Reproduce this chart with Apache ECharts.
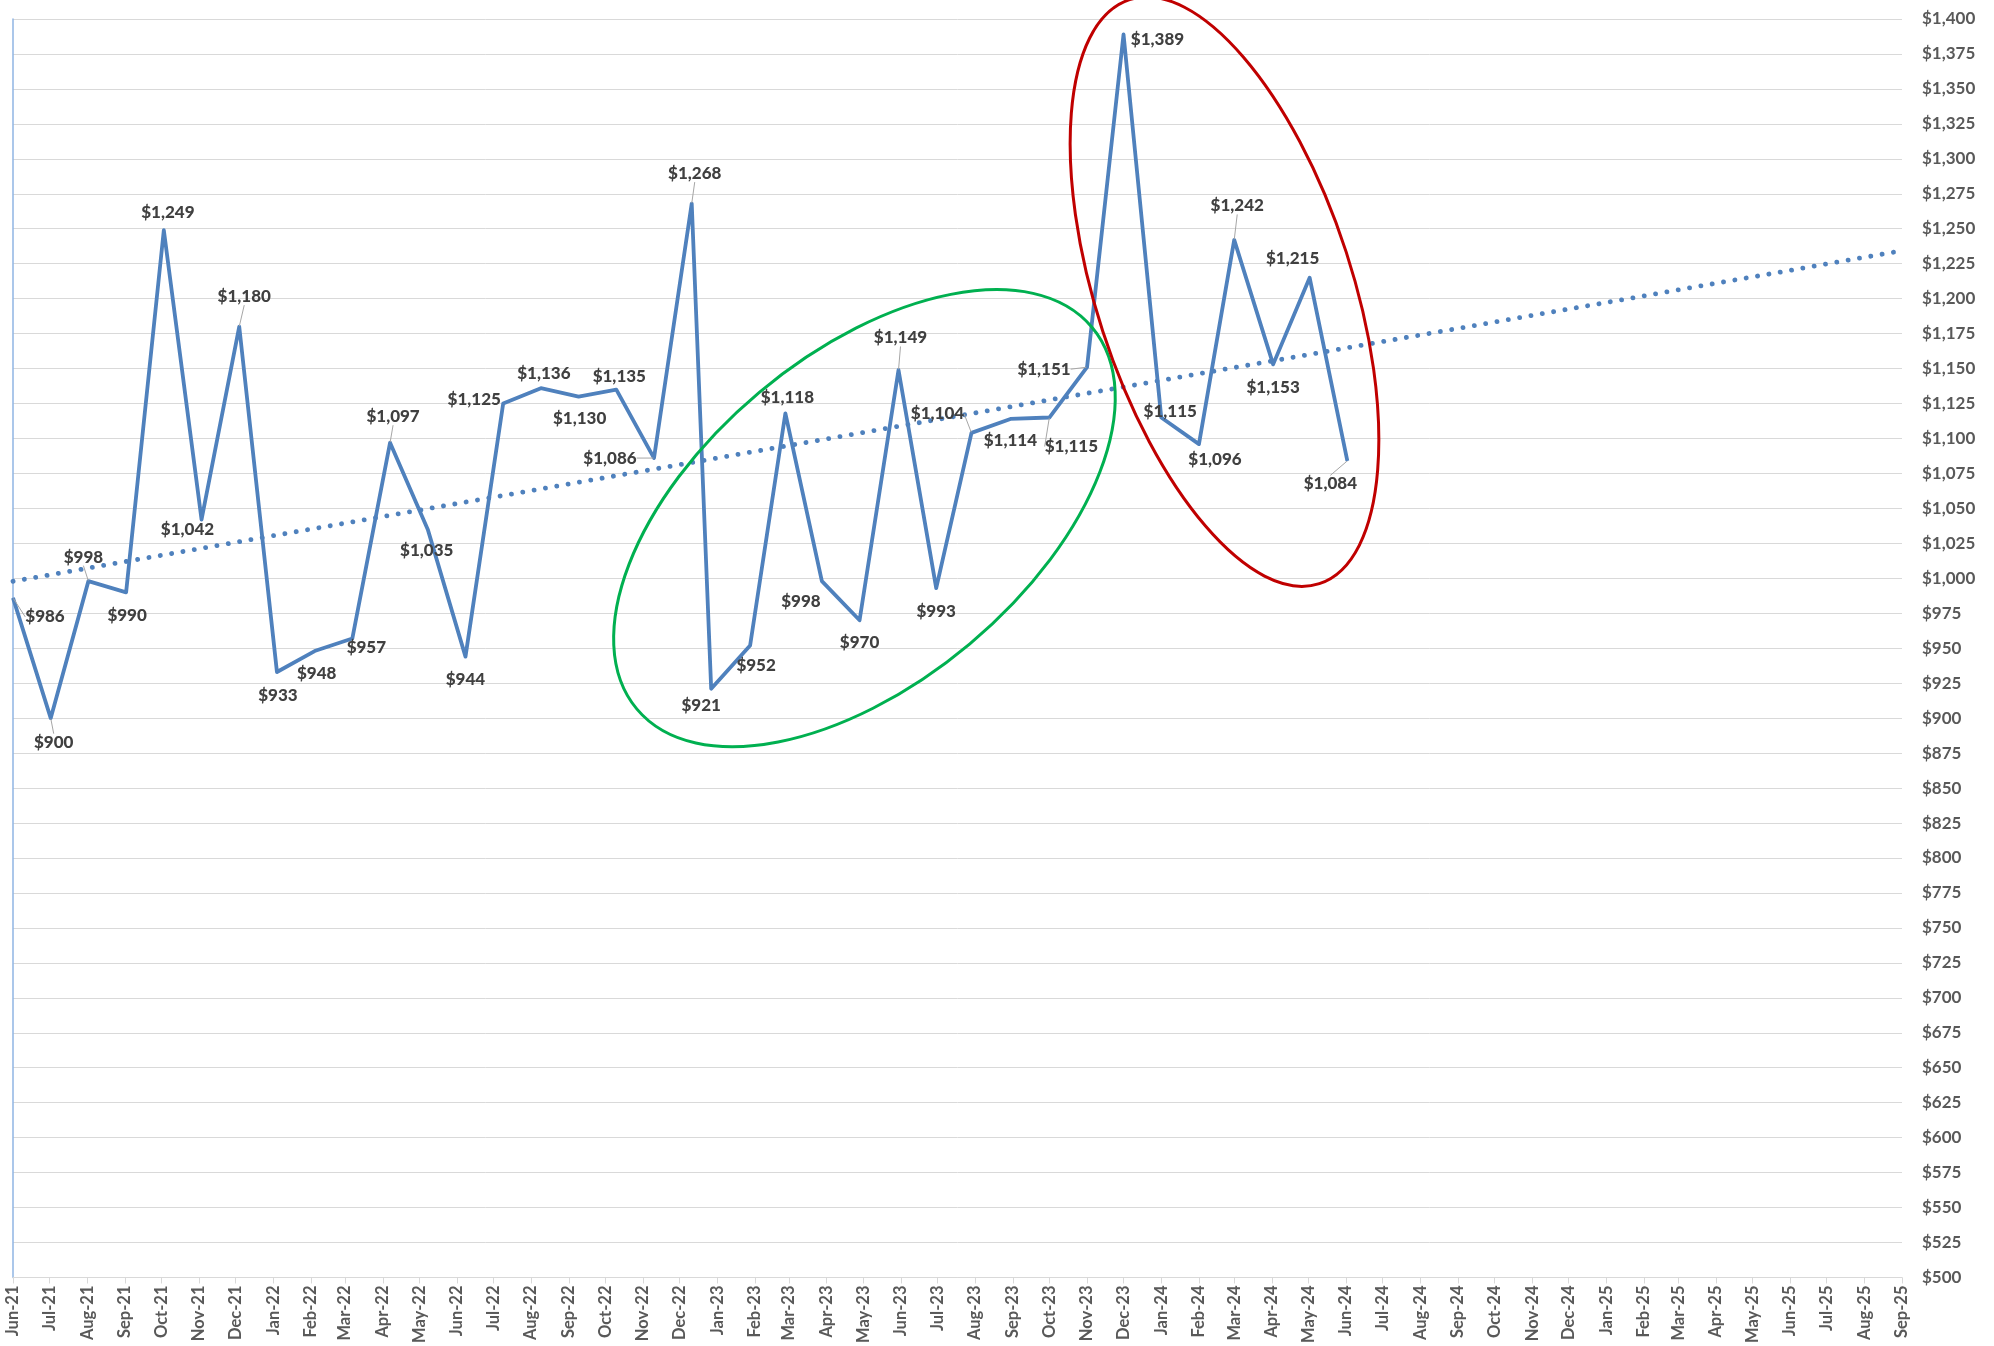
<!DOCTYPE html>
<html>
<head>
<meta charset="utf-8">
<script src="https://cdn.jsdelivr.net/npm/echarts@6/dist/echarts.min.js"></script>
<style>
  html, body { margin: 0; padding: 0; background: #ffffff; }
  #chart { width: 1994px; height: 1346px; }
</style>
</head>
<body>
<div id="chart"></div>
<script>
// Observation dates (yyyy-mm-dd)
const dates = [
  '2021-06-01','2021-07-02','2021-08-02','2021-09-02','2021-10-03','2021-11-03','2021-12-04',
  '2022-01-04','2022-02-04','2022-03-07','2022-04-07','2022-05-08','2022-06-08','2022-07-09',
  '2022-08-09','2022-09-09','2022-10-10','2022-11-10','2022-12-11',
  '2022-12-27','2023-01-28','2023-02-26','2023-03-28','2023-04-28','2023-05-30','2023-06-30',
  '2023-07-29','2023-08-30','2023-10-01','2023-11-01','2023-12-01',
  '2024-01-01','2024-02-01','2024-03-01','2024-04-02','2024-05-02','2024-06-02'
];

// Values at those dates
const prices = [
  986, 900, 998, 990, 1249, 1042, 1180,
  933, 948, 957, 1097, 1035, 944, 1125,
  1136, 1130, 1135, 1086, 1268,
  921, 952, 1118, 998, 970, 1149, 993,
  1104, 1114, 1115, 1151, 1389,
  1115, 1096, 1242, 1153, 1215, 1084
];

// Axis range: monthly ticks from Jun-21 to Sep-25, money scale $500..$1,400
const axisStart = '2021-06-01';
const axisEnd = '2025-09-01';
const monthNames = ['Jan','Feb','Mar','Apr','May','Jun','Jul','Aug','Sep','Oct','Nov','Dec'];
const yMin = 500;
const yMax = 1400;
const yStep = 25;

// Data label placement: offset of the label centre from its point (px), leader line on/off
const labelPlacement = [
  [32, 19, true],  [3, 24, true],   [-5, -24, true], [1, 23, false],  [4, -18, false],
  [-14, 10, false],[5, -30, true],  [1, 23, false],  [2, 22, false],  [14, 9, false],
  [3, -26, true],  [-1, 21, false], [0, 23, false],  [-29, -4, false],[3, -15, false],
  [1, 22, false],  [3, -13, false], [-44, 0, true],  [3, -30, true],  [-10, 17, false],
  [6, 20, false],  [2, -16, false], [-21, 20, false],[0, 22, false],  [2, -32, true],
  [0, 23, false],  [-34, -19, true],[0, 22, false],  [22, 29, true],  [-43, 2, true],
  [34, 5, false],  [9, -6, false],  [16, 15, false], [3, -34, true],  [0, 23, false],
  [-17, -19, false],[-17, 23, true]
];

// Highlight ellipses, centred in data coordinates (date, value)
const highlights = [
  { center: ['2023-05-02', 1043], rx: 297, ry: 164, rotationDeg: 40, color: '#00B050' },
  { center: ['2024-02-22', 1205], rx: 128, ry: 307, rotationDeg: 18, color: '#C00000' }
];

const DAY = 86400000;
function toTime(s) {
  const p = s.split('-').map(Number);
  return new Date(p[0], p[1] - 1, p[2]).getTime();
}

// Linear trendline fitted on the observations (x in days), drawn across the whole axis
function linearFit(xs, ys) {
  const n = xs.length;
  let sx = 0, sy = 0, sxy = 0, sxx = 0;
  for (let i = 0; i < n; i++) { sx += xs[i]; sy += ys[i]; sxy += xs[i] * ys[i]; sxx += xs[i] * xs[i]; }
  const slope = (n * sxy - sx * sy) / (n * sxx - sx * sx);
  return { slope, intercept: (sy - slope * sx) / n };
}
const t0 = toTime(axisStart);
const tEnd = toTime(axisEnd);
const dayOffsets = dates.map(d => (toTime(d) - t0) / DAY);
const fit = linearFit(dayOffsets, prices);
const trendData = [t0, tEnd].map(t => [t, fit.intercept + fit.slope * (t - t0) / DAY]);

const lineBlue = '#4F81BD';
const textGray = '#404040';
const axisGray = '#595959';
const gridGray = '#D9D9D9';
const fontFamily = 'Lato, "Liberation Sans", sans-serif';

const fmtMoney = v => '$' + Number(v).toLocaleString('en-US');
const fmtMonth = v => {
  const d = new Date(v);
  return monthNames[d.getMonth()] + '-' + String(d.getFullYear() % 100).padStart(2, '0');
};

const priceData = prices.map((v, i) => ({
  value: [toTime(dates[i]), v],
  labelLine: { show: labelPlacement[i][2] }
}));

const chart = echarts.init(document.getElementById('chart'), null, { renderer: 'canvas' });

chart.setOption({
  animation: false,
  backgroundColor: '#ffffff',
  grid: { left: 13, right: 92, top: 19, bottom: 68, containLabel: false },
  xAxis: {
    type: 'time',
    min: t0,
    max: tEnd,
    splitNumber: 52,
    minInterval: 28 * DAY,
    maxInterval: 31 * DAY,
    axisLine: { show: true, lineStyle: { color: gridGray, width: 1 } },
    axisTick: { show: true, length: 6, lineStyle: { color: gridGray } },
    axisLabel: {
      rotate: 90, margin: 8, hideOverlap: false,
      showMinLabel: true, showMaxLabel: true,
      color: axisGray, fontWeight: 'bold', fontSize: 16.5, fontFamily: fontFamily,
      formatter: fmtMonth
    },
    splitLine: { show: false }
  },
  yAxis: [
    {
      type: 'value', position: 'right',
      min: yMin, max: yMax, interval: yStep,
      axisLine: { show: false }, axisTick: { show: false },
      axisLabel: {
        margin: 20, color: axisGray, fontWeight: 'bold', fontSize: 17, fontFamily: fontFamily,
        formatter: fmtMoney
      },
      splitLine: { show: true, lineStyle: { color: gridGray, width: 1 } }
    },
    {
      type: 'value', position: 'left',
      min: yMin, max: yMax, interval: yStep,
      axisLine: { show: true, lineStyle: { color: '#8FB4E3', width: 1.5 } },
      axisTick: { show: false }, axisLabel: { show: false },
      splitLine: { show: false }
    }
  ],
  series: [
    {
      name: 'Trend',
      type: 'line',
      data: trendData,
      showSymbol: false,
      silent: true,
      z: 2,
      lineStyle: { color: lineBlue, width: 4.8, type: [0.1, 11.4], cap: 'round' }
    },
    {
      name: 'Price',
      type: 'line',
      data: priceData,
      z: 3,
      symbol: 'circle',
      symbolSize: 1,
      showSymbol: true,
      itemStyle: { color: lineBlue },
      lineStyle: { color: lineBlue, width: 3.8, join: 'round' },
      label: {
        show: true, position: 'inside',
        color: textGray, fontWeight: 900, fontSize: 17, fontFamily: fontFamily,
        formatter: p => fmtMoney(p.value[1])
      },
      labelLine: { show: false, lineStyle: { color: '#A6A6A6', width: 1 } },
      labelLayout: params => {
        const p = labelPlacement[params.dataIndex];
        return { dx: p[0], dy: p[1] };
      }
    }
  ]
});

// Annotation ellipses placed through the axes' coordinate system
chart.setOption({
  graphic: highlights.map(h => {
    const c = chart.convertToPixel({ xAxisIndex: 0, yAxisIndex: 0 }, [toTime(h.center[0]), h.center[1]]);
    return {
      type: 'ellipse',
      x: c[0], y: c[1],
      rotation: h.rotationDeg * Math.PI / 180,
      shape: { cx: 0, cy: 0, rx: h.rx, ry: h.ry },
      style: { fill: 'none', stroke: h.color, lineWidth: 3 },
      silent: true,
      z: 10
    };
  })
});
</script>
</body>
</html>
